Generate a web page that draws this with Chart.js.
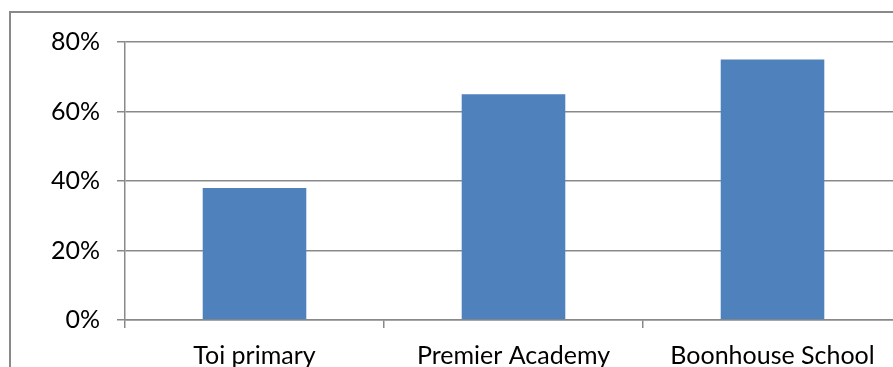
<!DOCTYPE html>
<html>
<head>
<meta charset="utf-8">
<script src="https://cdn.jsdelivr.net/npm/chart.js@4.4.1/dist/chart.umd.min.js"></script>
<style>
  html, body { margin: 0; padding: 0; background: #fff; overflow: hidden; }
  canvas { display: block; }
</style>
</head>
<body>
<canvas id="grafico" width="893" height="367"></canvas>
<script>
const schools = ['Toi primary', 'Premier Academy', 'Boonhouse School'];
const percentages = [38, 65, 75];
const yTicks = [0, 20, 40, 60, 80];

const gridGray = '#898989';
const labelFont = { family: 'Lato, "Liberation Sans", sans-serif', size: 25 };

// marco gris: solo se ven los bordes izquierdo y superior
const marco = {
    id: 'marco',
    beforeDraw(chart) {
        const ctx = chart.ctx;
        ctx.save();
        ctx.strokeStyle = gridGray;
        ctx.lineWidth = 2;
        ctx.beginPath();
        ctx.moveTo(10, chart.height);
        ctx.lineTo(10, 12);
        ctx.lineTo(chart.width, 12);
        ctx.stroke();
        ctx.restore();
    }
};

// el área del gráfico continúa unos píxeles más allá del borde derecho
const extraDerecha = 9;
const estirar = {
    id: 'estirar',
    afterLayout(chart) {
        const x = chart.scales.x;
        x.right += extraDerecha;
        x.width = x.right - x.left;
        x.configure();
        chart.chartArea.right += extraDerecha;
        chart.chartArea.width += extraDerecha;
    }
};

document.addEventListener('DOMContentLoaded', function () {
    const ctx = document.getElementById('grafico').getContext('2d');
    new Chart(ctx, {
        type: 'bar',
        data: {
            labels: schools,
            datasets: [{
                data: percentages,
                backgroundColor: '#4F81BD',
                barPercentage: 0.4,
                categoryPercentage: 1.0
            }]
        },
        options: {
            responsive: false,
            animation: false,
            layout: { padding: { top: 42, right: 0, bottom: 0, left: 0 } },
            plugins: { legend: { display: false }, tooltip: { enabled: false } },
            scales: {
                x: {
                    grid: {
                        offset: true,
                        drawOnChartArea: false,
                        color: gridGray,
                        lineWidth: 1.5,
                        tickLength: 8
                    },
                    border: { color: gridGray, width: 1.5 },
                    ticks: { color: '#000', font: labelFont, padding: 13, maxRotation: 0 },
                    afterFit(scale) { scale.height = 47; }
                },
                y: {
                    min: 0,
                    max: 80,
                    afterBuildTicks(scale) { scale.ticks = yTicks.map(v => ({ value: v })); },
                    grid: { color: gridGray, lineWidth: 1.5, tickLength: 8 },
                    border: { color: gridGray, width: 1.5 },
                    ticks: {
                        color: '#000',
                        font: labelFont,
                        padding: 17,
                        callback: v => v + '%'
                    },
                    afterFit(scale) { scale.width = 125; }
                }
            }
        },
        plugins: [marco, estirar]
    });
});
</script>
</body>
</html>
